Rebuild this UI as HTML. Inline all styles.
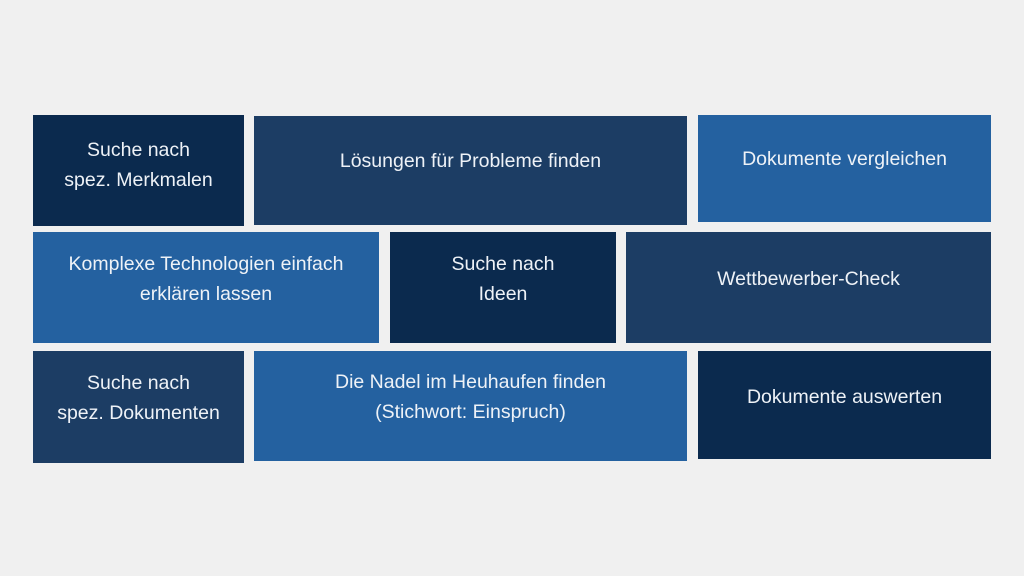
<!DOCTYPE html>
<html><head><style>
body{margin:0;width:1024px;height:576px;background:#f0f0f0;position:relative;overflow:hidden;font-family:"Liberation Sans",sans-serif;}
.b{position:absolute;display:flex;align-items:center;justify-content:center;text-align:center;color:#eef2f7;font-size:19.5px;line-height:30px;box-sizing:border-box}
.d{background:#0b2a4e}.m{background:#1c3d64}.l{background:#2461a0}
</style></head><body>
<div class="b d" style="left:33px;top:115px;width:211px;height:111px;padding-bottom:12px">Suche nach<br>spez. Merkmalen</div>
<div class="b m" style="left:254px;top:116px;width:433px;height:109px;padding-bottom:19px">Lösungen für Probleme finden</div>
<div class="b l" style="left:698px;top:115px;width:293px;height:107px;padding-bottom:20px">Dokumente vergleichen</div>
<div class="b l" style="left:33px;top:232px;width:346px;height:111px;padding-bottom:17px">Komplexe Technologien einfach<br>erklären lassen</div>
<div class="b d" style="left:390px;top:232px;width:226px;height:111px;padding-bottom:17px">Suche nach<br>Ideen</div>
<div class="b m" style="left:626px;top:232px;width:365px;height:111px;padding-bottom:17px">Wettbewerber-Check</div>
<div class="b m" style="left:33px;top:351px;width:211px;height:112px;padding-bottom:18px">Suche nach<br>spez. Dokumenten</div>
<div class="b l" style="left:254px;top:351px;width:433px;height:110px;padding-bottom:18px">Die Nadel im Heuhaufen finden<br>(Stichwort: Einspruch)</div>
<div class="b d" style="left:698px;top:351px;width:293px;height:108px;padding-bottom:16px">Dokumente auswerten</div>
</body></html>
